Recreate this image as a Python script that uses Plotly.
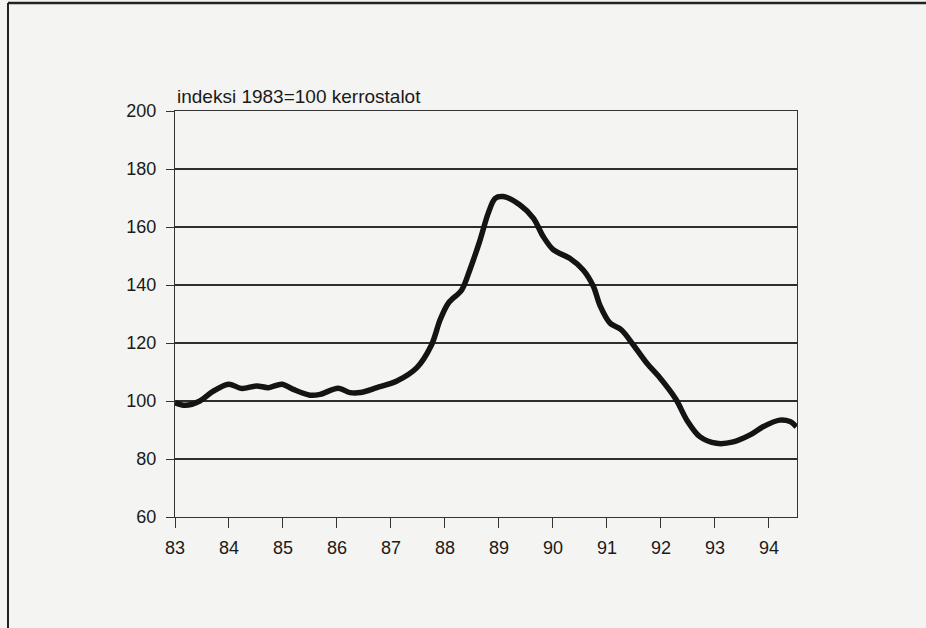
import plotly.graph_objects as go

# Time in years (83 = 1983)
years = [83.00, 83.19, 83.46, 83.71, 83.99, 84.24, 84.51, 84.73, 84.98, 85.19,
         85.50, 85.69, 86.02, 86.24, 86.43, 86.74, 87.11, 87.48, 87.75, 87.91,
         88.06, 88.31, 88.46, 88.65, 88.80, 88.93, 89.08, 89.39, 89.64, 89.82,
         90.01, 90.31, 90.56, 90.75, 90.87, 91.06, 91.27, 91.49, 91.74, 91.98,
         92.28, 92.48, 92.72, 93.03, 93.34, 93.65, 93.89, 94.20, 94.39, 94.51]
index = [99.4, 98.5, 100.0, 103.4, 105.8, 104.3, 105.2, 104.6, 105.8, 104.0,
         102.0, 102.3, 104.4, 102.9, 102.9, 104.6, 106.9, 111.5, 119.3, 128.0,
         133.7, 138.3, 145.2, 155.5, 164.7, 169.9, 170.5, 167.6, 163.0, 156.7,
         152.1, 149.2, 145.2, 139.5, 133.0, 126.8, 124.5, 119.3, 113.0, 108.0,
         100.5, 93.4, 87.7, 85.4, 85.9, 88.3, 91.1, 93.4, 92.9, 91.1]

x_ticks = [83, 84, 85, 86, 87, 88, 89, 90, 91, 92, 93, 94]
x_tick_labels = [str(v) for v in x_ticks]
y_ticks = [60, 80, 100, 120, 140, 160, 180, 200]
title_text = "indeksi 1983=100 kerrostalot"

FONT = "Liberation Sans, Arial, sans-serif"
BG = "#f4f4f2"

fig = go.Figure()
fig.add_trace(go.Scatter(
    x=years, y=index, mode="lines",
    line=dict(color="#141414", width=5.5, shape="spline", smoothing=0.9),
    hoverinfo="x+y", showlegend=False,
))

fig.update_layout(
    width=926, height=628,
    margin=dict(l=175, r=129, t=111, b=111),
    paper_bgcolor=BG, plot_bgcolor=BG,
    font=dict(family=FONT, size=17, color="#1a1a1a"),
    showlegend=False,
    xaxis=dict(
        range=[83, 94.52], tickmode="array", tickvals=x_ticks, ticktext=x_tick_labels,
        ticks="outside", ticklen=10, tickwidth=1, tickcolor="#333",
        showgrid=False, zeroline=False,
        showline=True, linecolor="#333", linewidth=1.2, mirror=True,
        tickfont=dict(size=18, family=FONT, color="#1a1a1a"),
        ticklabelstandoff=4,
    ),
    yaxis=dict(
        range=[60, 200], tickmode="array", tickvals=y_ticks,
        ticks="outside", ticklen=8, tickwidth=1, tickcolor="#333",
        showgrid=True, gridcolor="#2e2e2e", gridwidth=1.6, zeroline=False,
        showline=True, linecolor="#333", linewidth=1.2, mirror=True,
        tickfont=dict(size=18, family=FONT, color="#1a1a1a"),
        ticklabelstandoff=6,
    ),
    annotations=[dict(
        text=title_text, xref="paper", yref="paper", x=0, y=1,
        xanchor="left", yanchor="bottom", xshift=0, yshift=2,
        showarrow=False, font=dict(size=19, family=FONT, color="#1a1a1a"),
    )],
    shapes=[
        # outer frame (top and left edges of the scanned page box)
        dict(type="line", xref="paper", yref="paper",
             x0=-0.2685, x1=1.21, y0=1.266, y1=1.266,
             line=dict(color="#222", width=2.5)),
        dict(type="line", xref="paper", yref="paper",
             x0=-0.2685, x1=-0.2685, y0=1.266, y1=-0.28,
             line=dict(color="#222", width=2)),
    ],
)

fig.write_html("out.html", config={"displayModeBar": False},
               post_script="document.body.style.margin='0';")
